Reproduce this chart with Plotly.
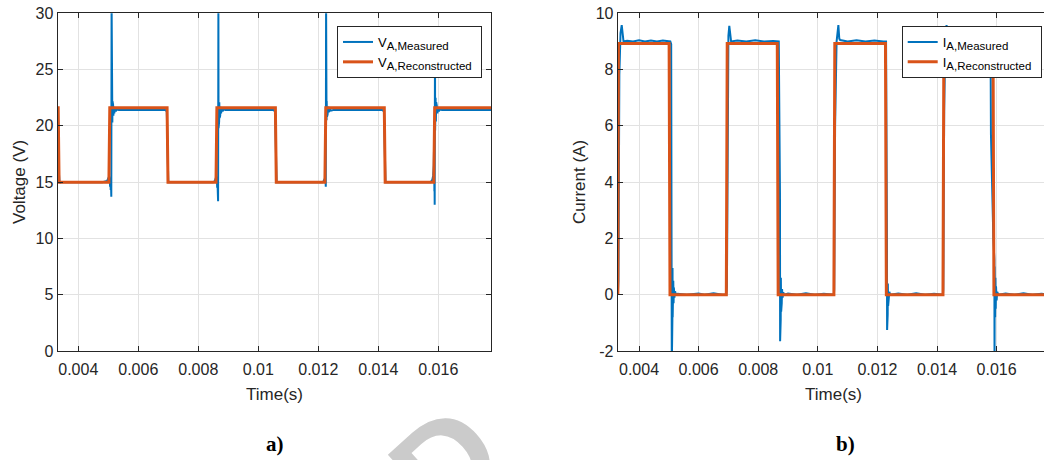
import plotly.graph_objects as go

# ---------------- data ----------------
# Phase-A voltage, reconstructed (square wave), (time s, volts)
V_RECON = [
    (0.00330, 21.6), (0.00333, 21.6), (0.00336, 15.0), (0.00502, 15.0), (0.00505, 21.6),
    (0.00696, 21.6), (0.00699, 15.0), (0.00859, 15.0), (0.00862, 21.6), (0.01057, 21.6),
    (0.01060, 15.0), (0.01222, 15.0), (0.01225, 21.6), (0.01420, 21.6), (0.01423, 15.0),
    (0.01585, 15.0), (0.01588, 21.6), (0.01780, 21.6),
]

# Phase-A voltage, measured (switching spikes and ringing at each rising edge)
V_MEAS = [
    # initial falling edge
    (0.00330, 21.4), (0.00332, 21.4), (0.00335, 16.0), (0.00337, 15.1), (0.00340, 14.95), (0.00345, 15.0),
    # rising edge 1
    (0.00420, 15.0), (0.00480, 15.0), (0.00496, 15.1), (0.00500, 15.3), (0.00503, 15.5), (0.00504, 15.0),
    (0.00505, 15.3), (0.00506, 14.6), (0.00507, 15.2), (0.00508, 14.3), (0.00509, 15.1), (0.00510, 13.7),
    (0.00511, 31.0), (0.005115, 19.5), (0.00512, 23.0), (0.005125, 19.9), (0.00513, 22.6), (0.005135, 20.3),
    (0.00514, 22.2), (0.00515, 20.6), (0.00516, 21.9), (0.00517, 20.9), (0.00518, 21.7), (0.00520, 21.1),
    (0.00522, 21.6), (0.00525, 21.3), (0.00529, 21.5), (0.00535, 21.4), (0.00545, 21.4),
    # falling edge 1
    (0.00620, 21.4), (0.00690, 21.4), (0.00695, 21.3), (0.00698, 15.8), (0.00700, 15.0), (0.00705, 15.0),
    # rising edge 2
    (0.00780, 15.0), (0.00850, 15.0), (0.00855, 15.1), (0.00858, 15.3), (0.00860, 15.5), (0.00861, 15.0),
    (0.00862, 15.3), (0.00863, 14.5), (0.00864, 15.2), (0.00865, 14.1), (0.00866, 13.3), (0.00867, 31.0),
    (0.008675, 19.8), (0.00868, 22.9), (0.008685, 20.1), (0.00869, 22.5), (0.008695, 20.4), (0.00870, 22.1),
    (0.00871, 20.7), (0.00872, 21.9), (0.00873, 20.9), (0.00874, 21.7), (0.00876, 21.1), (0.00878, 21.6),
    (0.00881, 21.3), (0.00885, 21.5), (0.00891, 21.4), (0.00900, 21.4),
    # falling edge 2
    (0.01000, 21.4), (0.01050, 21.4), (0.01056, 21.3), (0.01059, 15.8), (0.01061, 15.0),
    # rising edge 3
    (0.01150, 15.0), (0.01214, 15.0), (0.01218, 15.1), (0.01221, 15.3), (0.01223, 15.0), (0.01224, 15.2),
    (0.01225, 14.6), (0.01226, 31.0), (0.012265, 20.3), (0.01227, 22.6), (0.012275, 20.5), (0.01228, 22.2),
    (0.01229, 20.8), (0.01230, 21.9), (0.01231, 21.0), (0.01233, 21.7), (0.01235, 21.2), (0.01238, 21.5),
    (0.01242, 21.35), (0.01250, 21.4),
    # falling edge 3
    (0.01350, 21.4), (0.01413, 21.4), (0.01419, 21.3), (0.01422, 15.8), (0.01424, 15.0),
    # rising edge 4
    (0.01520, 15.0), (0.01575, 15.0), (0.01580, 15.2), (0.01583, 15.6), (0.01585, 16.5), (0.01586, 18.5),
    (0.01587, 14.2), (0.015875, 15.3), (0.01588, 13.0), (0.01589, 27.5), (0.015895, 19.6), (0.01590, 22.9),
    (0.015905, 20.0), (0.01591, 22.5), (0.01592, 20.4), (0.01593, 22.1), (0.01594, 20.8), (0.01595, 21.8),
    (0.01597, 21.1), (0.01599, 21.6), (0.01602, 21.3), (0.01606, 21.5), (0.01612, 21.4), (0.01780, 21.4),
]

# Phase-A current, reconstructed (time s, amps)
I_RECON = [
    (0.00329, 0.0), (0.00331, 8.93), (0.00501, 8.93), (0.00504, 0.0), (0.00693, 0.0), (0.00696, 8.93),
    (0.00864, 8.93), (0.00867, 0.0), (0.01054, 0.0), (0.01057, 8.93), (0.01227, 8.93), (0.01230, 0.0),
    (0.01420, 0.0), (0.01423, 8.93), (0.01588, 8.93), (0.01591, 0.0), (0.01780, 0.0),
]

# Phase-A current, measured
I_MEAS = [
    # rising edge 1
    (0.00329, 0.0), (0.00331, 0.5), (0.00334, 7.8), (0.00338, 9.3), (0.00342, 9.58), (0.00345, 9.1),
    (0.00348, 9.0), (0.00360, 9.02), (0.00380, 9.0), (0.00400, 9.04), (0.00420, 9.0), (0.00440, 9.03),
    (0.00460, 9.0), (0.00480, 9.03), (0.00495, 9.0),
    # falling edge 1
    (0.00505, 9.0), (0.00508, 8.9), (0.00510, -2.6), (0.005105, 1.0), (0.00511, -0.95), (0.005115, 1.0),
    (0.00512, -0.9), (0.005125, 0.95), (0.00513, -0.8), (0.005135, 0.9), (0.00514, -0.5), (0.00515, 0.5),
    (0.00516, -0.3), (0.00517, 0.25), (0.00519, -0.1), (0.00521, 0.12), (0.00524, 0.0), (0.00530, 0.03),
    (0.00560, 0.0), (0.00600, 0.04), (0.00620, 0.0), (0.00650, 0.05), (0.00680, 0.0), (0.00693, 0.0),
    # rising edge 2
    (0.00695, 0.3), (0.00697, 6.5), (0.00700, 9.2), (0.00703, 9.55), (0.00706, 9.1), (0.00709, 9.0),
    (0.00730, 9.03), (0.00760, 9.0), (0.00790, 9.04), (0.00820, 9.0), (0.00850, 9.02), (0.00862, 9.0),
    # falling edge 2
    (0.00869, 9.0), (0.00873, 3.6), (0.008735, -1.65), (0.00874, 0.8), (0.008745, -1.1), (0.00875, 0.75),
    (0.008755, -0.9), (0.00876, 0.6), (0.00877, -0.6), (0.00878, 0.4), (0.00879, -0.3), (0.00880, 0.2),
    (0.00882, -0.1), (0.00884, 0.08), (0.00888, 0.0),
    (0.00900, 0.04), (0.00930, 0.0), (0.00960, 0.05), (0.00990, 0.0), (0.01020, 0.03), (0.01054, 0.0),
    # rising edge 3
    (0.01055, 0.2), (0.01058, 6.0), (0.01063, 9.0), (0.01069, 9.58), (0.01072, 9.1), (0.01075, 9.05),
    (0.01100, 9.0), (0.01130, 9.04), (0.01160, 9.0), (0.01190, 9.03), (0.01220, 9.0),
    # falling edge 3
    (0.01229, 9.0), (0.01232, 2.05), (0.012325, -1.25), (0.01233, 0.55), (0.012335, -0.9), (0.01234, 0.5),
    (0.012345, -0.7), (0.01235, 0.4), (0.01236, -0.4), (0.01237, 0.25), (0.01238, -0.15), (0.01240, 0.1),
    (0.01243, 0.0),
    (0.01270, 0.04), (0.01300, 0.0), (0.01330, 0.05), (0.01360, 0.0), (0.01390, 0.03), (0.01420, 0.0),
    # rising edge 4
    (0.01421, 0.2), (0.01424, 6.5), (0.01428, 9.1), (0.01432, 9.58), (0.01435, 9.1), (0.01438, 9.0),
    (0.01470, 9.03), (0.01500, 9.0), (0.01530, 9.04), (0.01560, 9.0), (0.01578, 9.0),
    # falling edge 4
    (0.01580, 8.1), (0.01581, 5.7), (0.01589, 2.0), (0.015925, 1.25), (0.01593, -2.6), (0.015935, 1.0),
    (0.01594, -1.0), (0.015945, 0.9), (0.01595, -0.8), (0.01596, 0.6), (0.01597, -0.5), (0.01598, 0.3),
    (0.01600, -0.2), (0.01602, 0.1), (0.01606, 0.0),
    (0.01630, 0.04), (0.01660, 0.0), (0.01690, 0.05), (0.01720, 0.0), (0.01750, 0.03), (0.01780, 0.0),
]

TIME_TICKS = [0.004, 0.006, 0.008, 0.010, 0.012, 0.014, 0.016]
TIME_TICK_TEXT = ["0.004", "0.006", "0.008", "0.01", "0.012", "0.014", "0.016"]
V_TICKS = [0, 5, 10, 15, 20, 25, 30]
I_TICKS = [-2, 0, 2, 4, 6, 8, 10]
I_TICK_TEXT = ["-2", "0", "2", "4", "6", "8", "10"]

BLUE = "#0072BD"
ORANGE = "#D95319"
AX = "#262626"
GRID = "#e2e2e2"
SANS = "Liberation Sans, Arial, sans-serif"
SERIF = "Liberation Serif, Times New Roman, serif"

W, H = 1044, 460


def unzip(points):
    return [p[0] for p in points], [p[1] for p in points]


def legend_name(symbol, sub):
    return f"{symbol}<sub><span style='font-size:11.5px'>{sub}</span></sub>&nbsp;"


fig = go.Figure()

t, v = unzip(V_MEAS)
fig.add_trace(go.Scatter(x=t, y=v, mode="lines", line=dict(color=BLUE, width=2),
                         name=legend_name("V", "A,Measured"), xaxis="x", yaxis="y", legend="legend"))
t, v = unzip(V_RECON)
fig.add_trace(go.Scatter(x=t, y=v, mode="lines", line=dict(color=ORANGE, width=3),
                         name=legend_name("V", "A,Reconstructed"), xaxis="x", yaxis="y", legend="legend"))
t, v = unzip(I_MEAS)
fig.add_trace(go.Scatter(x=t, y=v, mode="lines", line=dict(color=BLUE, width=2),
                         name=legend_name("I", "A,Measured"), xaxis="x2", yaxis="y2", legend="legend2"))
t, v = unzip(I_RECON)
fig.add_trace(go.Scatter(x=t, y=v, mode="lines", line=dict(color=ORANGE, width=3),
                         name=legend_name("I", "A,Reconstructed"), xaxis="x2", yaxis="y2", legend="legend2"))

axis_common = dict(
    showline=True, linecolor=AX, linewidth=1,
    ticks="inside", ticklen=5, tickwidth=1, tickcolor=AX,
    showgrid=True, gridcolor=GRID, gridwidth=1, zeroline=False,
    tickfont=dict(family=SANS, size=16, color=AX),
    automargin=False,
)

left_dom = [57.5 / W, 491 / W]
right_dom = [617.7 / W, 1.0]
y_dom = [(H - 351) / H, (H - 13.3) / H]

legend_style = dict(yanchor="top", xanchor="left", y=1 - 26 / H,
                    bgcolor="white", bordercolor=AX, borderwidth=1, tracegroupgap=0,
                    font=dict(family=SANS, size=13, color="black"))

fig.update_layout(
    width=W, height=H, autosize=False,
    margin=dict(l=0, r=0, t=0, b=0, pad=0),
    paper_bgcolor="white", plot_bgcolor="white",
    xaxis=dict(domain=left_dom, range=[0.003307, 0.017757], tickvals=TIME_TICKS,
               ticktext=TIME_TICK_TEXT, mirror="ticks", anchor="y", ticklabelstandoff=4,
               **axis_common),
    yaxis=dict(domain=y_dom, range=[0, 30], tickvals=V_TICKS, mirror="ticks",
               anchor="x", **axis_common),
    xaxis2=dict(domain=right_dom, range=[0.003285, 0.017590], tickvals=TIME_TICKS,
                ticktext=TIME_TICK_TEXT, mirror="ticks", anchor="y2", ticklabelstandoff=4,
                **axis_common),
    yaxis2=dict(domain=y_dom, range=[-2, 10], tickvals=I_TICKS, ticktext=I_TICK_TEXT,
                mirror=False, anchor="x2", **axis_common),
    legend=dict(x=337 / W, **legend_style),
    legend2=dict(x=901.7 / W, **legend_style),
    showlegend=True,
)


def label(text, px, py, size, family=SANS, angle=0, bold=False, color=AX):
    fig.add_annotation(
        text=f"<b>{text}</b>" if bold else text,
        x=px / W, y=1 - py / H, xref="paper", yref="paper",
        xanchor="center", yanchor="middle", showarrow=False, textangle=angle,
        font=dict(family=family, size=size, color=color),
    )


label("Voltage (V)", 20, 182, 17, angle=-90)
label("Time(s)", 274.5, 394, 17)
label("Current (A)", 580, 182, 17, angle=-90)
label("Time(s)", 833, 394, 17)
label("a)", 275, 444, 21, family=SERIF, bold=True, color="black")
label("b)", 845, 444, 21, family=SERIF, bold=True, color="black")

# faint watermark glyph along the bottom edge
label("D", 446, 462, 130, family=SANS, angle=-42, bold=True, color="#cbcbcb")

fig.write_html("out.html")
